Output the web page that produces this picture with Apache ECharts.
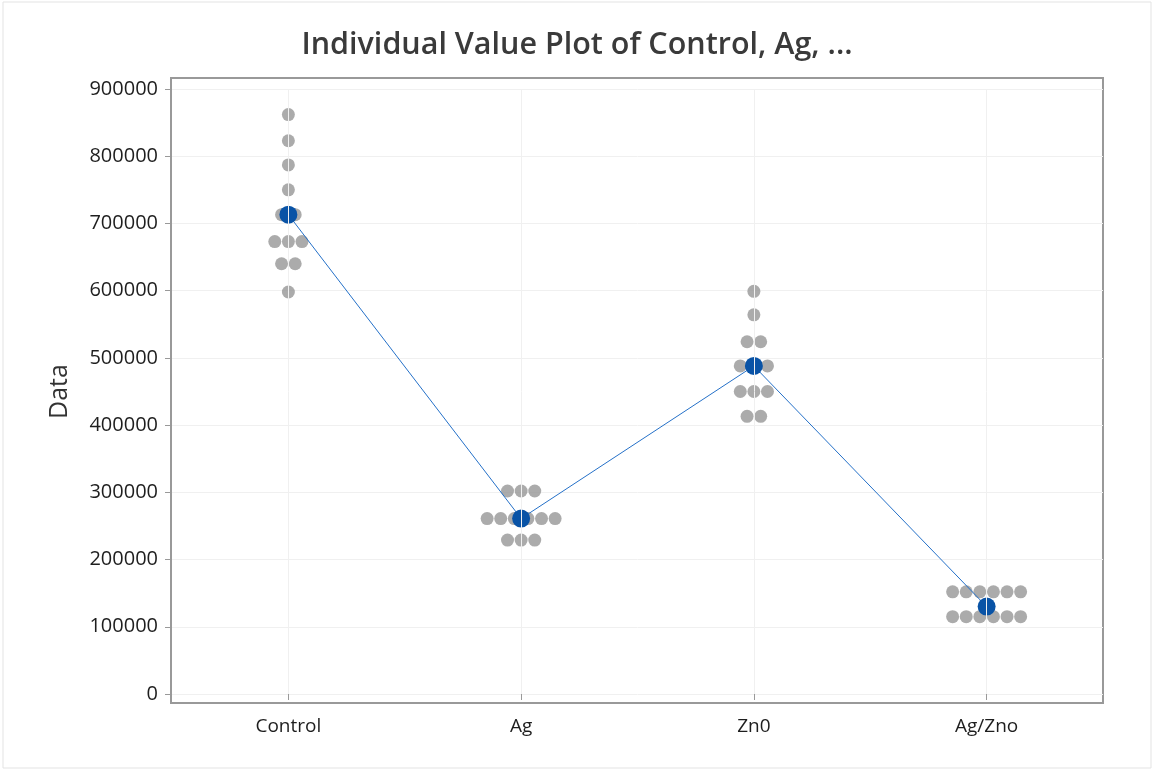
<!DOCTYPE html>
<html>
<head>
<meta charset="utf-8">
<title>Individual Value Plot</title>
<script src="https://cdn.jsdelivr.net/npm/echarts@6/dist/echarts.min.js"></script>
<style>
  html, body { margin: 0; padding: 0; background: #fff; }
  #main { width: 1154px; height: 769px; }
</style>
</head>
<body>
<div id="main"></div>
<script>
var categories = ['Control', 'Ag', 'Zn0', 'Ag/Zno'];
var controlVals = [862000, 823000, 787000, 750000, 713000, 713000, 673000, 673000, 673000, 640000, 640000, 598000];
var agVals = [302000, 302000, 302000, 261000, 261000, 261000, 261000, 261000, 261000, 229000, 229000, 229000];
var zn0Vals = [599000, 564000, 524000, 524000, 488000, 488000, 488000, 450000, 450000, 450000, 413000, 413000];
var agZnoVals = [152000, 152000, 152000, 152000, 152000, 152000, 115000, 115000, 115000, 115000, 115000, 115000];
var meanVals = [713000, 261000, 488000, 130000];

var groups = [controlVals, agVals, zn0Vals, agZnoVals];
var dotGap = 13.6;

// dots with the same value are spread side by side around the category
function buildDots() {
	var out = [];
	for (var g = 0; g < groups.length; g++) {
		var counts = {};
		groups[g].forEach(function(v) { counts[v] = (counts[v] || 0) + 1; });
		Object.keys(counts).forEach(function(k) {
			var n = counts[k];
			for (var i = 0; i < n; i++) {
				out.push({
					value: [g, +k],
					symbolOffset: [(i - (n - 1) / 2) * dotGap, 0]
				});
			}
		});
	}
	return out;
}

var myChart = echarts.init(document.getElementById('main'));
var option = {
	animation: false,
	textStyle: { fontFamily: 'Open Sans' },
	title: {
		text: 'Individual Value Plot of Control, Ag, ...',
		left: 'center',
		top: 25,
		textStyle: { fontSize: 30.5, fontWeight: 600, color: '#3a3a3a', fontFamily: 'Open Sans' }
	},
	grid: [
		{ left: 172, right: 51, top: 89, bottom: 75 },
		{ left: 171, right: 51, top: 78, bottom: 66, show: true, borderColor: '#999', borderWidth: 2, backgroundColor: 'transparent' },
		{ left: 3, right: 3, top: 2, bottom: 1, show: true, borderColor: '#e3e3e3', borderWidth: 1, z: 0 }
	],
	xAxis: [{
		type: 'category',
		gridIndex: 0,
		data: categories,
		offset: 9,
		axisLine: { show: false },
		axisTick: { show: true, alignWithLabel: true, length: 6, lineStyle: { color: '#999' } },
		axisLabel: { fontSize: 19, color: '#1e1e1e', margin: 14 },
		splitLine: { show: false }
	}],
	yAxis: [{
		type: 'value',
		gridIndex: 0,
		min: 0,
		max: 900000,
		interval: 100000,
		name: 'Data',
		nameLocation: 'middle',
		nameRotate: 90,
		nameGap: 100,
		nameTextStyle: { fontSize: 25, color: '#333' },
		axisLine: { show: false },
		axisTick: { show: true, length: 7, lineStyle: { color: '#999' } },
		axisLabel: { fontSize: 20, color: '#1e1e1e', margin: 14, formatter: function(v) { return String(v); } },
		splitLine: { show: true, lineStyle: { color: '#f0f0f0', width: 1 } }
	}],
	series: [
		{
			name: 'grid',
			type: 'scatter',
			data: [],
			silent: true,
			markLine: {
				silent: true,
				symbol: 'none',
				label: { show: false },
				lineStyle: { color: '#f0f0f0', width: 1, type: 'solid' },
				data: categories.map(function(c) { return { xAxis: c }; })
			}
		},
		{
			name: 'values',
			type: 'scatter',
			symbol: 'circle',
			symbolSize: 13,
			itemStyle: { color: '#969696' },
			data: buildDots(),
			z: 3
		},
		{
			name: 'mean',
			type: 'line',
			data: meanVals,
			symbol: 'circle',
			symbolSize: 18,
			itemStyle: { color: '#0953a6' },
			lineStyle: { color: '#2470c8', width: 1 },
			z: 4
		}
	]
};
myChart.setOption(option);
</script>
</body>
</html>
